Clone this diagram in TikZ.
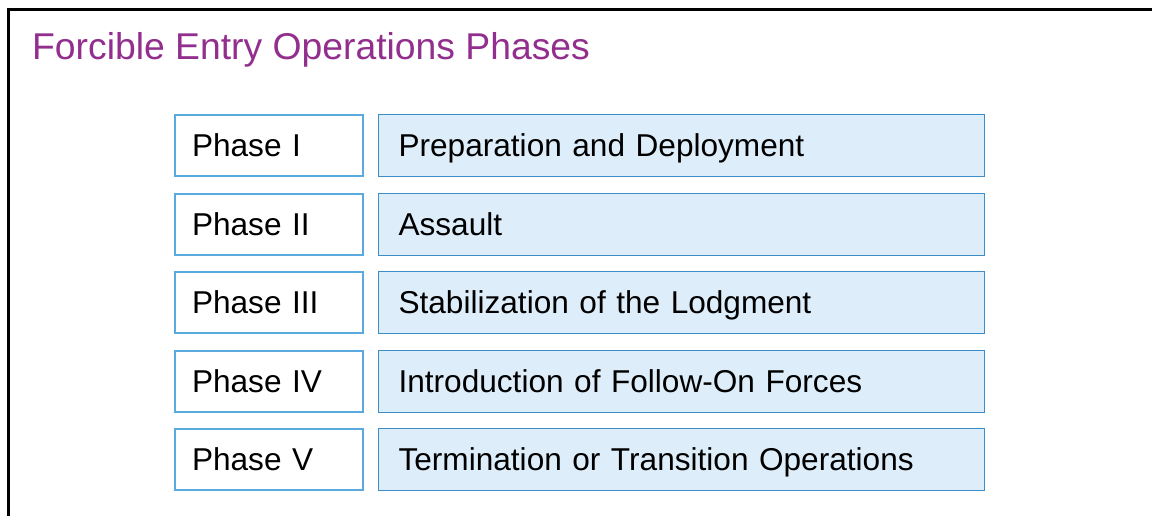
\documentclass[tikz,border=0pt]{standalone}
\usepackage{fontspec}
\setmainfont{Liberation Sans}
\usepackage{tikz}
\usetikzlibrary{positioning}
\definecolor{titlepurple}{HTML}{922F8E}
\definecolor{phaseblue}{HTML}{5AAAE0}
\definecolor{stageblue}{HTML}{3C8DC8}
\definecolor{stagefill}{HTML}{DDEEFA}

\begin{document}
\begin{tikzpicture}[x=1pt,y=-1pt,
	phasebox/.style={draw=phaseblue,line width=2pt,fill=white,minimum height=61pt,text width=154pt,inner xsep=17pt,align=left,text height=23pt,text depth=1pt,font=\fontsize{31.6}{37}\selectfont},
	stagebox/.style={draw=stageblue,line width=1.1pt,fill=stagefill,minimum height=62pt,text width=566pt,inner xsep=20pt,align=left,text height=23pt,text depth=1pt,font=\fontsize{31.6}{37}\selectfont}]
					\useasboundingbox (0,0) rectangle (1152,515);
					\draw[line width=2.5pt] (8.5,516) -- (8.5,9.5) -- (1153,9.5);
					\node[anchor=base west,inner sep=0pt,text=titlepurple,font=\fontsize{37.3}{44}\selectfont] at (32,59) (title) {Forcible Entry Operations Phases};
					\foreach \n/\r/\txt in {1/I/Preparation and Deployment,2/II/Assault,3/III/Stabilization of the Lodgment,4/IV/Introduction of Follow-On Forces,5/V/Termination or Transition Operations}{
					\node[phasebox,anchor=west] at (174,145.5+\n*78.6-78.6) (p\n) {Phase \r};
					\node[stagebox,right=14pt of p\n] (s\n) {\txt};
					}
				\end{tikzpicture}
\end{document}
